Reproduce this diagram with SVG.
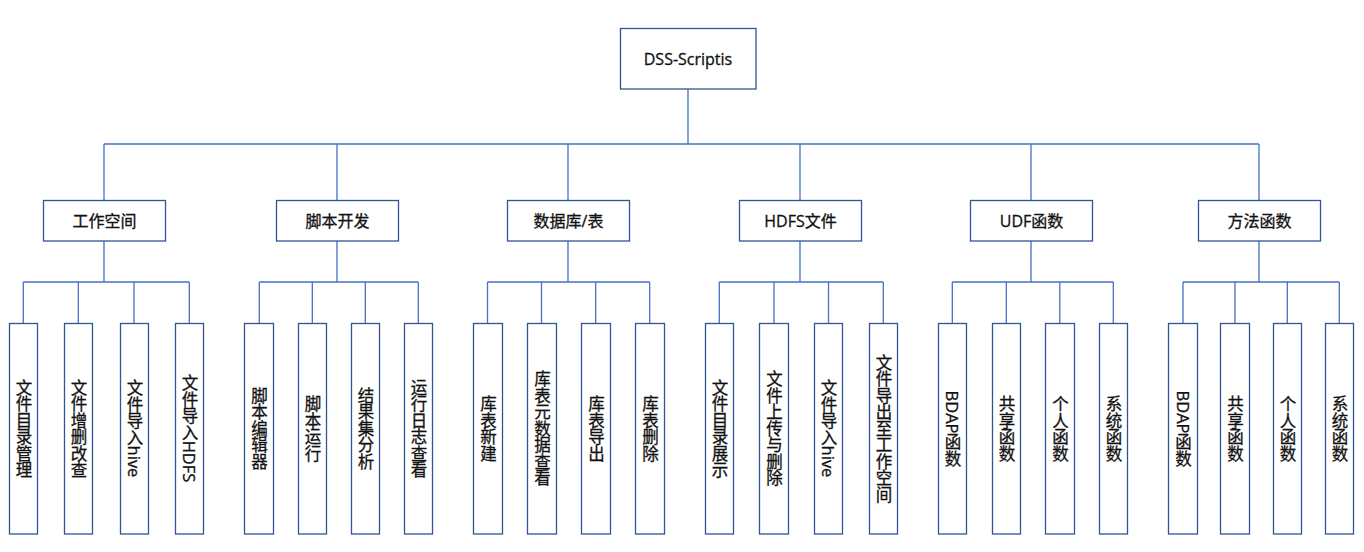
<svg xmlns="http://www.w3.org/2000/svg" width="1364" height="552" viewBox="0 0 1364 552">
<style>
.box{fill:#fff;stroke:#2F5597;stroke-width:1.3}
.c{fill:none;stroke:#4472C4;stroke-width:1.3}
.t{font-family:"Open Sans","Noto Sans CJK SC",sans-serif;font-size:16px;fill:#111;stroke:#111;stroke-width:0.3;text-anchor:middle;dominant-baseline:central}
.v{font-family:"Open Sans","Noto Sans CJK SC",sans-serif;font-size:16.5px;fill:#111;stroke:#111;stroke-width:0.3;text-anchor:middle;writing-mode:vertical-rl}
</style>
<rect width="1364" height="552" fill="#fff"/>
<g id="connectors">
<path class="c" d="M688 89V144M104 144H1259M104 144V200M337 144V200M568 144V200M800 144V200M1031 144V200M1259 144V200"/>
<path class="c" d="M104 241V282M23.3 282H189.3M23.3 282V323M78.3 282V323M134 282V323M189.3 282V323"/>
<path class="c" d="M337 241V282M259.3 282H418.3M259.3 282V323M312.3 282V323M365.3 282V323M418.3 282V323"/>
<path class="c" d="M568 241V282M487.5 282H649.7M487.5 282V323M541.5 282V323M595.7 282V323M649.7 282V323"/>
<path class="c" d="M800 241V282M719.3 282H883.3M719.3 282V323M774 282V323M828.5 282V323M883.3 282V323"/>
<path class="c" d="M1031 241V282M952.3 282H1113.3M952.3 282V323M1006.3 282V323M1059.8 282V323M1113.3 282V323"/>
<path class="c" d="M1259 241V282M1183 282H1339.3M1183 282V323M1235 282V323M1287.3 282V323M1339.3 282V323"/>
</g>
<g id="root"><rect class="box" x="620.5" y="28.5" width="135.5" height="60.5"/><text class="t" x="688" y="59">DSS-Scriptis</text></g>
<g id="n1"><rect class="box" x="43.5" y="200.5" width="122" height="40.5"/><text class="t" x="104.5" y="221">工作空间</text></g>
<g id="n2"><rect class="box" x="276.5" y="200.5" width="122" height="40.5"/><text class="t" x="337.5" y="221">脚本开发</text></g>
<g id="n3"><rect class="box" x="507.5" y="200.5" width="122" height="40.5"/><text class="t" x="568.5" y="221">数据库/表</text></g>
<g id="n4"><rect class="box" x="739.5" y="200.5" width="122" height="40.5"/><text class="t" x="800.5" y="221">HDFS文件</text></g>
<g id="n5"><rect class="box" x="970.5" y="200.5" width="122" height="40.5"/><text class="t" x="1031.5" y="221">UDF函数</text></g>
<g id="n6"><rect class="box" x="1198.5" y="200.5" width="122" height="40.5"/><text class="t" x="1259.5" y="221">方法函数</text></g>

<g id="l1a"><rect class="box" x="9.5" y="323.5" width="28" height="210.5"/><text class="v" x="23.5" y="428.5">文件目录管理</text></g>
<g id="l1b"><rect class="box" x="64.5" y="323.5" width="28" height="210.5"/><text class="v" x="78.5" y="428.5">文件增删改查</text></g>
<g id="l1c"><rect class="box" x="120.5" y="323.5" width="28" height="210.5"/><text class="v" x="134.5" y="428.5">文件导入hive</text></g>
<g id="l1d"><rect class="box" x="175.5" y="323.5" width="28" height="210.5"/><text class="v" x="189.5" y="428.5">文件导入HDFS</text></g>

<g id="l2a"><rect class="box" x="244.5" y="323.5" width="29" height="210.5"/><text class="v" x="259" y="428.5">脚本编辑器</text></g>
<g id="l2b"><rect class="box" x="298.5" y="323.5" width="28" height="210.5"/><text class="v" x="312.5" y="428.5">脚本运行</text></g>
<g id="l2c"><rect class="box" x="351.5" y="323.5" width="28" height="210.5"/><text class="v" x="365.5" y="428.5">结果集分析</text></g>
<g id="l2d"><rect class="box" x="404.5" y="323.5" width="28" height="210.5"/><text class="v" x="418.5" y="428.5">运行日志查看</text></g>

<g id="l3a"><rect class="box" x="473.5" y="323.5" width="29" height="210.5"/><text class="v" x="488" y="428.5">库表新建</text></g>
<g id="l3b"><rect class="box" x="527.5" y="323.5" width="29" height="210.5"/><text class="v" x="542" y="428.5">库表元数据查看</text></g>
<g id="l3c"><rect class="box" x="581.5" y="323.5" width="29" height="210.5"/><text class="v" x="596" y="428.5">库表导出</text></g>
<g id="l3d"><rect class="box" x="635.5" y="323.5" width="29" height="210.5"/><text class="v" x="650" y="428.5">库表删除</text></g>

<g id="l4a"><rect class="box" x="705.5" y="323.5" width="28" height="210.5"/><text class="v" x="719.5" y="428.5">文件目录展示</text></g>
<g id="l4b"><rect class="box" x="759.5" y="323.5" width="29" height="210.5"/><text class="v" x="774" y="428.5">文件上传与删除</text></g>
<g id="l4c"><rect class="box" x="814.5" y="323.5" width="28" height="210.5"/><text class="v" x="828.5" y="428.5">文件导入hive</text></g>
<g id="l4d"><rect class="box" x="869.5" y="323.5" width="28" height="210.5"/><text class="v" x="883.5" y="428.5">文件导出至工作空间</text></g>

<g id="l5a"><rect class="box" x="938.5" y="323.5" width="28" height="210.5"/><text class="v" x="952.5" y="428.5">BDAP函数</text></g>
<g id="l5b"><rect class="box" x="992.5" y="323.5" width="28" height="210.5"/><text class="v" x="1006.5" y="428.5">共享函数</text></g>
<g id="l5c"><rect class="box" x="1045.5" y="323.5" width="29" height="210.5"/><text class="v" x="1060" y="428.5">个人函数</text></g>
<g id="l5d"><rect class="box" x="1099.5" y="323.5" width="28" height="210.5"/><text class="v" x="1113.5" y="428.5">系统函数</text></g>

<g id="l6a"><rect class="box" x="1168.5" y="323.5" width="29" height="210.5"/><text class="v" x="1183" y="428.5">BDAP函数</text></g>
<g id="l6b"><rect class="box" x="1220.5" y="323.5" width="29" height="210.5"/><text class="v" x="1235" y="428.5">共享函数</text></g>
<g id="l6c"><rect class="box" x="1273.5" y="323.5" width="28" height="210.5"/><text class="v" x="1287.5" y="428.5">个人函数</text></g>
<g id="l6d"><rect class="box" x="1325.5" y="323.5" width="28" height="210.5"/><text class="v" x="1339.5" y="428.5">系统函数</text></g>
</svg>
